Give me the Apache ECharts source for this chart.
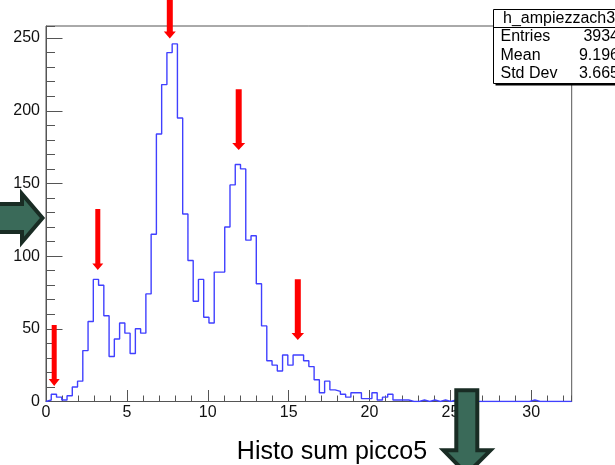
<!DOCTYPE html>
<html>
<head>
<meta charset="utf-8">
<title>h_ampiezzach3</title>
<script src="https://cdn.jsdelivr.net/npm/echarts@6/dist/echarts.min.js"></script>
<style>
  html, body { margin: 0; padding: 0; background: #fff; }
  #chart { width: 615px; height: 465px; }
</style>
</head>
<body>
<div id="chart"></div>
<script>
// Histogram binning: 100 equal bins over [0, 32.5]
const binLow = 0;
const binHigh = 32.5;

// Counts per bin
const counts = [
  1, 5, 3, 1, 4, 10, 14, 35, 55, 84,
  80, 59, 31, 43, 54, 47, 33, 50, 47, 74,
  115, 184, 218, 240, 246, 195, 129, 97, 69, 84,
  58, 54, 89, 89, 120, 149, 163, 160, 111, 114,
  81, 52, 28, 25, 21, 32, 25, 32, 32, 28,
  24, 15, 6, 14, 8, 7, 5, 3, 6, 6,
  2, 2, 6, 1, 3, 5, 1, 1, 1, 0,
  0, 1, 0, 1, 0, 1, 0, 1, 0, 0,
  0, 0, 0, 0, 0, 0, 0, 0, 0, 0,
  0, 0, 1, 0, 0, 0, 0, 0, 0, 0
];

// Statistics box
const histName = 'h_ampiezzach3';
const statLabels = ['Entries', 'Mean', 'Std Dev'];
const statValues = ['3934', '9.196', '3.665'];

// Axis tick settings
const xMajor = 5;
const xMinor = 1;
const yMajor = 50;
const yMinor = 10;
const yTop = 258.3;

const caption = 'Histo sum picco5';

const binWidth = (binHigh - binLow) / counts.length;
const outline = [[binLow, 0]];
counts.forEach((c, i) => outline.push([binLow + i * binWidth, c]));
outline.push([binHigh, counts[counts.length - 1]]);
outline.push([binHigh, 0]);

const FONT = '"Liberation Sans", Arial, Helvetica, sans-serif';
const AXIS_COLOR = '#555';

// Red marker arrows pointing down at the peaks
function downArrow(tipX, tipY, topY, shaftW, headW, headH) {
  const s = shaftW / 2, h = headW / 2, baseY = tipY - headH;
  return {
    type: 'polygon',
    z: 100,
    shape: { points: [
      [tipX - s, topY], [tipX + s, topY], [tipX + s, baseY], [tipX + h, baseY],
      [tipX, tipY], [tipX - h, baseY], [tipX - s, baseY]
    ] },
    style: { fill: '#ff0000' }
  };
}

const GREEN_FILL = '#3a6a59';
const GREEN_EDGE = '#192c24';

const graphics = [
  downArrow(169.8, 38.5, -5, 6, 12, 7),
  downArrow(238.7, 150, 89.3, 6, 13, 7),
  downArrow(97.8, 270, 209, 5, 11, 6.5),
  downArrow(54.2, 386, 325, 5, 11, 7),
  downArrow(297.8, 340, 279.3, 6, 12.5, 7),
  // big right-pointing arrow on the left
  {
    type: 'polygon', z: 110,
    shape: { points: [[-10, 204], [22, 204], [22, 194], [42.5, 218], [22, 242], [22, 232], [-10, 232]] },
    style: { fill: GREEN_FILL, stroke: GREEN_EDGE, lineWidth: 4, lineJoin: 'miter' }
  },
  // big down-pointing arrow at the bottom
  {
    type: 'polygon', z: 110,
    shape: { points: [[456.3, 390.3], [477.3, 390.3], [477.3, 450.3], [490.5, 450.3], [466.8, 474], [443.5, 450.3], [456.3, 450.3]] },
    style: { fill: GREEN_FILL, stroke: GREEN_EDGE, lineWidth: 4, lineJoin: 'miter' }
  },
  // stats box
  { type: 'rect', z: 120, shape: { x: 495.5, y: 11.5, width: 140, height: 74 }, style: { fill: '#000' } },
  { type: 'rect', z: 121, shape: { x: 493.5, y: 9.5, width: 140, height: 74 }, style: { fill: '#fff', stroke: '#000', lineWidth: 1 } },
  { type: 'line', z: 122, shape: { x1: 493.5, y1: 27.5, x2: 633.5, y2: 27.5 }, style: { stroke: '#000', lineWidth: 1 } },
  { type: 'text', z: 123, x: 503, y: 18.5,
    style: { text: histName, font: '16px ' + FONT, fill: '#000', textAlign: 'left', textVerticalAlign: 'middle' } },
  // caption under the plot
  { type: 'text', z: 90, x: 332, y: 452,
    style: { text: caption, font: '25px ' + FONT, fill: '#000', textAlign: 'center', textVerticalAlign: 'middle' } }
];

statLabels.forEach((lab, i) => {
  const y = 37 + i * 18.2;
  graphics.push({ type: 'text', z: 123, x: 500.5, y: y,
    style: { text: lab, font: '16px ' + FONT, fill: '#000', textAlign: 'left', textVerticalAlign: 'middle' } });
  graphics.push({ type: 'text', z: 123, x: 619, y: y,
    style: { text: statValues[i], font: '16px ' + FONT, fill: '#000', textAlign: 'right', textVerticalAlign: 'middle' } });
});

const chart = echarts.init(document.getElementById('chart'), null, { renderer: 'canvas' });

const option = {
  animation: false,
  backgroundColor: '#fff',
  grid: {
    left: 46, right: 43.3, top: 26, bottom: 63.5,
    show: true, borderColor: AXIS_COLOR, borderWidth: 1, backgroundColor: 'transparent'
  },
  xAxis: [
    {
      type: 'value', position: 'bottom', min: binLow, max: binHigh, interval: xMajor,
      axisLine: { show: true, lineStyle: { color: AXIS_COLOR, width: 1 } },
      axisTick: { show: true, inside: true, length: 11.5, lineStyle: { color: AXIS_COLOR, width: 1 } },
      axisLabel: { show: true, showMaxLabel: false, margin: 3, color: '#111', fontFamily: FONT, fontSize: 16 },
      splitLine: { show: false }
    },
    {
      type: 'value', position: 'bottom', min: binLow, max: binHigh, interval: xMinor,
      axisLine: { show: false },
      axisTick: { show: true, inside: true, length: 6, lineStyle: { color: AXIS_COLOR, width: 1 } },
      axisLabel: { show: false },
      splitLine: { show: false }
    }
  ],
  yAxis: [
    {
      type: 'value', position: 'left', min: 0, max: yTop, interval: yMajor,
      axisLine: { show: true, lineStyle: { color: AXIS_COLOR, width: 1 } },
      axisTick: { show: true, inside: true, length: 16.5, lineStyle: { color: AXIS_COLOR, width: 1 } },
      axisLabel: { show: true, showMaxLabel: false, margin: 6, color: '#111', fontFamily: FONT, fontSize: 16 },
      splitLine: { show: false }
    },
    {
      type: 'value', position: 'left', min: 0, max: yTop, interval: yMinor,
      axisLine: { show: false },
      axisTick: { show: true, inside: true, length: 9, lineStyle: { color: AXIS_COLOR, width: 1 } },
      axisLabel: { show: false },
      splitLine: { show: false }
    }
  ],
  series: [
    {
      type: 'line',
      xAxisIndex: 0, yAxisIndex: 0,
      data: outline,
      step: 'end',
      showSymbol: false,
      symbol: 'none',
      lineStyle: { color: '#4040ff', width: 1.4 },
      z: 5
    }
  ],
  graphic: graphics
};

chart.setOption(option);
</script>
</body>
</html>
